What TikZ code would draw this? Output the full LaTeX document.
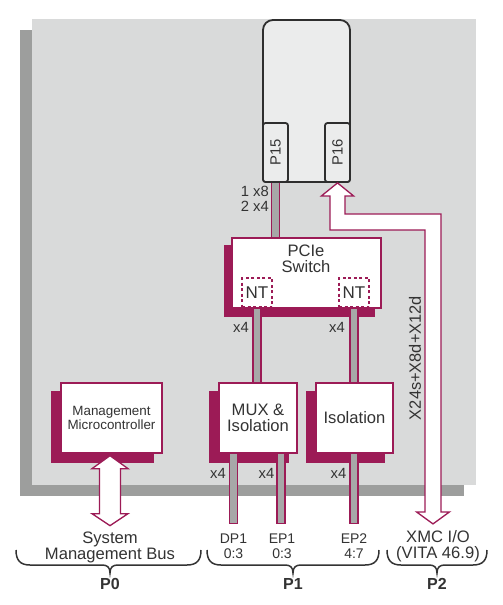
\documentclass[tikz,border=0pt]{standalone}
\usepackage{fontspec}
\setmainfont{Liberation Sans}
\usetikzlibrary{calc}
\definecolor{crim}{HTML}{9C1B56}
\definecolor{boardc}{HTML}{D9DADA}
\definecolor{boardsh}{HTML}{9D9E9D}
\definecolor{linkg}{HTML}{A7A8A8}
\definecolor{modf}{HTML}{EBECEC}
\definecolor{modb}{HTML}{2E2E2E}
\definecolor{txtc}{HTML}{333333}
\pgfdeclarelayer{boardlayer}
\pgfdeclarelayer{shadowlayer}
\pgfdeclarelayer{linklayer}
\pgfsetlayers{boardlayer,shadowlayer,linklayer,main}
\begin{document}
\begin{tikzpicture}[x=1pt,y=-1pt,
  every node/.style={text=txtc, inner sep=0pt},
  f13/.style={font=\fontsize{13.4}{13.5}\selectfont},
  f14/.style={font=\fontsize{14}{15}\selectfont},
  f15/.style={font=\fontsize{14.8}{15.5}\selectfont},
  frot/.style={font=\fontsize{16.4}{16}\selectfont},
  f16/.style={font=\fontsize{16.6}{16}\selectfont},
  f17/.style={font=\fontsize{17}{17}\selectfont},
  fbold/.style={font=\fontsize{16}{16}\selectfont\bfseries},
  blk/.style={draw=crim, fill=white, line width=1.3pt, align=center},
  ntbox/.style={draw=crim, fill=white, line width=1.3pt, dash pattern=on 3pt off 2.5pt, f17},
  conn/.style={draw=modb, fill=modf, line width=1.8pt, rounded corners=2.5pt},
  link/.style={draw=crim, line width=1.4pt, double=linkg, double distance=6.3pt, line cap=rect},
  wide/.style={draw=crim, fill=white, line width=1.3pt, line join=miter},
  brc/.style={draw=txtc, line width=1.5pt}
]
\useasboundingbox (0,0) rectangle (503,605);
\begin{pgfonlayer}{boardlayer}
  \fill[boardsh] (20,30) rectangle (464,496);
  \fill[boardc] (32,19) rectangle (476,485);
\end{pgfonlayer}

% XMC module
\draw[modb, fill=modf, line width=1.8pt] (263,110) [rounded corners=10pt] -- (263,20) -- (350,20) -- (350,110) [rounded corners=3pt] -- (350,182) -- (263,182) -- cycle;
\node[conn, minimum width=25pt, minimum height=59pt] (p15) at (275.5,152.5) {};
\node[conn, minimum width=25pt, minimum height=59pt] (p16) at (337.5,152.5) {};
\node[f15, rotate=90] at (p15) {P15};
\node[f15, rotate=90] at (p16) {P16};

% PCIe switch
\node[blk, minimum width=149pt, minimum height=70pt] (sw) at (306.5,273) {};
\node[f16, align=center] at (306,259) {PCIe\\Switch};
\node[ntbox, minimum width=30pt, minimum height=29pt] (nt1) at (257,292.5) {NT};
\node[ntbox, minimum width=30pt, minimum height=29pt] (nt2) at (354,292.5) {NT};

% lower boxes
\node[blk, minimum width=101pt, minimum height=70pt, f13] (mgmt) at (111.5,418) {Management\\Microcontroller};
\node[blk, minimum width=78pt, minimum height=70pt, f16] (mux) at (258,418) {MUX \&\\Isolation};
\node[blk, minimum width=77pt, minimum height=70pt, f16] (iso) at (354.5,418) {Isolation};

% shadows
\begin{pgfonlayer}{shadowlayer}
  \foreach \n/\dx/\dy in {sw/-7/8, mux/-9/9, iso/-9/9, mgmt/-9/9}
    \fill[crim] ([shift={(\dx,\dy)}]\n.south west) rectangle ([shift={(\dx,\dy)}]\n.north east);
\end{pgfonlayer}

% links
\coordinate (dp1) at (233.5,519.5);
\coordinate (ep1) at (281,519.5);
\coordinate (ep2) at (354,519.5);
\begin{pgfonlayer}{linklayer}
  \draw[link] (p15.south) -- (p15.south |- sw.north);
  \draw[link] (nt1.south) -- (nt1.south |- mux.north);
  \draw[link] (nt2.south) -- (nt2.south |- iso.north);
  \draw[link] (dp1 |- mux.south) -- (dp1);
  \draw[link] (ep1 |- mux.south) -- (ep1);
  \draw[link] (ep2 |- iso.south) -- (ep2);
\end{pgfonlayer}

% wide arrows
\draw[wide] ($(mgmt.south)+(-1.5,2)$) -- ++(18,13) -- ++(-7.5,0) -- ++(0,45) -- ++(7.5,0) -- ++(-18,12) -- ++(-18,-12) -- ++(7.5,0) -- ++(0,-45) -- ++(-7.5,0) -- cycle;
\draw[wide] (p16.south) -- ++(16,13) -- ++(-8.5,0) -- ++(0,18) -- ++(96,0) -- ++(0,298) -- ++(8.5,0) -- ++(-16.5,12) -- ++(-16.5,-12) -- ++(8.5,0) -- ++(0,-282) -- ++(-95,0) -- ++(0,-34) -- ++(-8.5,0) -- cycle;

% labels
\node[f15, align=right, anchor=east] at (269,199) {1 x8\\2 x4};
\node[f15] at (241,327.5) {x4};
\node[f15] at (337,327.5) {x4};
\node[f15] at (218,473) {x4};
\node[f15] at (266.5,473) {x4};
\node[f15] at (338.5,473) {x4};
\node[frot, rotate=90] at (415,358) {X24s+X8d+X12d};

\node[f14, align=center] at (233.5,546) {DP1\\0:3};
\node[f14, align=center] at (282,546) {EP1\\0:3};
\node[f14, align=center] at (354,546) {EP2\\4:7};
\node[f16, align=center] at (110,547) {System\\Management Bus};
\node[f16, align=center] at (438,546) {XMC I/O\\(VITA 46.9)};

% braces
\foreach \xa/\xm/\xb in {16/110/201, 207/293/379, 387/437/487}
  \draw[brc] (\xa,550) .. controls (\xa,560) and (\xa+4,565) .. (\xa+14,565) -- (\xm-8,565) .. controls (\xm-3,565) and (\xm,567) .. (\xm,573) .. controls (\xm,567) and (\xm+3,565) .. (\xm+8,565) -- (\xb-14,565) .. controls (\xb-4,565) and (\xb,560) .. (\xb,550);
\node[fbold] at (110,584) {P0};
\node[fbold] at (293,584) {P1};
\node[fbold] at (437,584) {P2};
\end{tikzpicture}
\end{document}
